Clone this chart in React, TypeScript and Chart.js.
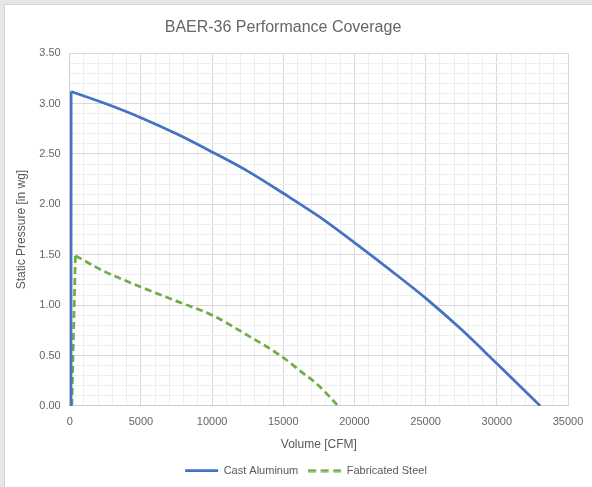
import React, { useEffect, useRef } from "react";
import { Chart, registerables } from "chart.js";

Chart.register(...registerables);

const chartTitle = "BAER-36 Performance Coverage";
const xAxisTitle = "Volume [CFM]";
const yAxisTitle = "Static Pressure [in wg]";

const seriesNames = ["Cast Aluminum", "Fabricated Steel"];

// null marks a break between the rising edge and the fan curve (same point on both sides)
const aluminumCfm = [90, 100, 100, 100, 2500, 5000, 7500, 10000, 12500, 15000, 17500, 20000, 22500, 25000, 27500, 30000, 33050];
const aluminumPressure = [0, 3.12, null, 3.12, 3.0, 2.86, 2.7, 2.52, 2.33, 2.11, 1.88, 1.62, 1.35, 1.07, 0.76, 0.42, 0];

const steelCfm = [150, 400, 400, 400, 2500, 5000, 7500, 10000, 12500, 15000, 16250, 17500, 18850];
const steelPressure = [0, 1.49, null, 1.49, 1.33, 1.18, 1.04, 0.9, 0.7, 0.48, 0.34, 0.2, 0];

const xMin = 0;
const xMax = 35000;
const xMinorStep = 1000;
const xMajorStep = 5000;
const yMin = 0;
const yMax = 3.5;
const yMinorStep = 0.1;

const FONT = "'Liberation Sans', Arial, Helvetica, sans-serif";
const BLUE = "#4472C4";
const GREEN = "#70AD47";

export default function App() {
  const ref = useRef<HTMLCanvasElement | null>(null);

  useEffect(() => {
    if (!ref.current) return;
    const toPts = (xs: number[], ys: (number | null)[]) => xs.map((x, i) => ({ x, y: ys[i] }));

    // dashed legend swatch
    const swatch = document.createElement("canvas");
    swatch.width = 33;
    swatch.height = 4;
    const sctx = swatch.getContext("2d");
    if (sctx) {
      sctx.strokeStyle = GREEN;
      sctx.lineWidth = 2.75;
      sctx.setLineDash([8, 4.5]);
      sctx.beginPath();
      sctx.moveTo(0, 2);
      sctx.lineTo(33, 2);
      sctx.stroke();
    }

    const shiftTitle = {
      id: "shiftTitle",
      afterLayout(chart: any) {
        const t = chart.titleBlock;
        if (t) {
          t.left -= 23;
          t.right -= 23;
        }
      },
    };

    const majorGrid = "#d9d9d9";
    const minorGrid = "#eeeeee";

    const chart = new Chart(ref.current, {
      type: "line",
      data: {
        datasets: [
          {
            label: seriesNames[0],
            data: toPts(aluminumCfm, aluminumPressure),
            borderColor: BLUE,
            backgroundColor: BLUE,
            borderWidth: 2.75,
            pointRadius: 0,
            pointStyle: "line",
            cubicInterpolationMode: "monotone",
            spanGaps: false,
            fill: false,
          },
          {
            label: seriesNames[1],
            data: toPts(steelCfm, steelPressure),
            borderColor: GREEN,
            backgroundColor: GREEN,
            borderWidth: 2.75,
            borderDash: [7, 4],
            pointRadius: 0,
            pointStyle: swatch,
            cubicInterpolationMode: "monotone",
            spanGaps: false,
            fill: false,
          },
        ],
      },
      options: {
        responsive: false,
        animation: false,
        devicePixelRatio: 1,
        layout: { padding: { left: 10.5, right: 10.5, top: 0, bottom: 1 } },
        plugins: {
          title: {
            display: true,
            text: chartTitle,
            color: "#666666",
            font: { family: FONT, size: 16, weight: "normal" },
            padding: { top: 18, bottom: 16 },
          },
          legend: {
            display: true,
            position: "bottom",
            labels: {
              usePointStyle: true,
              pointStyleWidth: 33,
              padding: 10,
              color: "#595959",
              font: { family: FONT, size: 11 },
            },
          },
          tooltip: { enabled: false },
        },
        scales: {
          x: {
            type: "linear",
            min: xMin,
            max: xMax,
            title: {
              display: true,
              text: xAxisTitle,
              color: "#595959",
              font: { family: FONT, size: 12 },
              padding: { top: 0, bottom: 3.5 },
            },
            ticks: {
              stepSize: xMinorStep,
              autoSkip: false,
              maxRotation: 0,
              padding: 9,
              color: "#666666",
              font: { family: FONT, size: 11 },
              callback: (v: any) => (Math.round(Number(v)) % xMajorStep === 0 ? String(v) : ""),
            },
            grid: {
              drawTicks: false,
              color: (ctx: any) =>
                ctx.tick && Math.round(ctx.tick.value) % xMajorStep === 0 ? majorGrid : minorGrid,
            },
            border: { color: "#cccccc" },
          },
          y: {
            type: "linear",
            min: yMin,
            max: yMax,
            afterFit: (s: any) => {
              s.width = 59.2;
            },
            title: {
              display: true,
              text: yAxisTitle,
              color: "#595959",
              font: { family: FONT, size: 12 },
              padding: { top: 4, bottom: 4 },
            },
            ticks: {
              stepSize: yMinorStep,
              autoSkip: false,
              padding: 9,
              color: "#666666",
              font: { family: FONT, size: 11 },
              callback: (v: any) => (Math.round(Number(v) * 10) % 5 === 0 ? Number(v).toFixed(2) : ""),
            },
            grid: {
              drawTicks: false,
              color: (ctx: any) =>
                ctx.tick && Math.round(ctx.tick.value * 10) % 5 === 0 ? majorGrid : minorGrid,
            },
            border: { color: "#cccccc" },
          },
          yRight: {
            type: "linear",
            position: "right",
            min: 0,
            max: 1,
            display: true,
            afterFit: (s: any) => {
              s.width = 33.5;
            },
            grid: { display: false, drawTicks: false },
            border: { display: false },
            ticks: { display: false },
          },
        },
      },
      plugins: [shiftTitle],
    } as any);

    return () => chart.destroy();
  }, []);

  return (
    <div
      style={{
        position: "fixed",
        left: 0,
        top: 0,
        width: 592,
        height: 487,
        overflow: "hidden",
        background: "#e6e6e6",
      }}
    >
      <div
        style={{
          position: "absolute",
          left: 4,
          top: 4,
          width: 620,
          height: 520,
          background: "#ffffff",
          border: "1px solid #d4d4d4",
        }}
      />
      <canvas
        ref={ref}
        width={612}
        height={487}
        style={{ position: "absolute", left: 0, top: 0, width: 612, height: 487 }}
      />
    </div>
  );
}
